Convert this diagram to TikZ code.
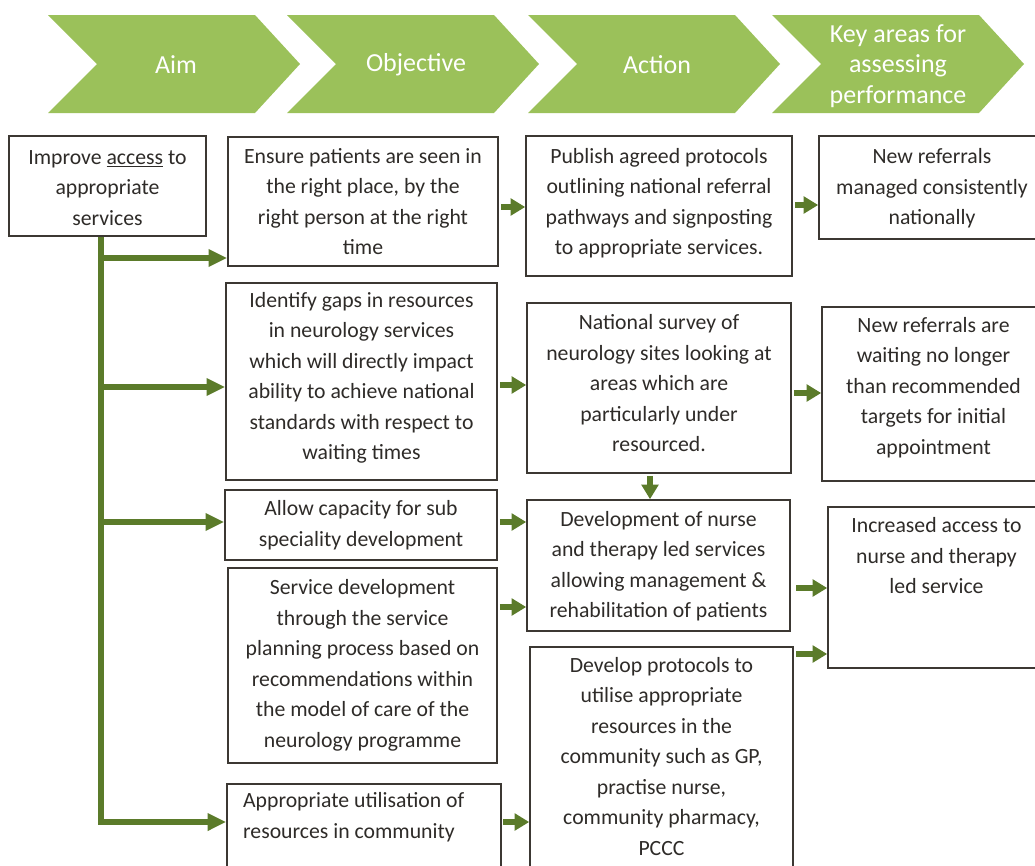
\documentclass[tikz,border=0pt]{standalone}
\usepackage{fontspec}
\setmainfont{Carlito}
\usetikzlibrary{fit,arrows.meta}

\definecolor{chevgreen}{HTML}{9BC15A}
\definecolor{arrgreen}{HTML}{5B7B2A}
\definecolor{boxline}{HTML}{3C3833}
\definecolor{boxtext}{HTML}{2E2B28}

\tikzset{
  box/.style={draw=boxline, line width=1.2pt, inner sep=0pt},
  txt/.style={inner sep=0pt, text=boxtext, align=center,
    font={\fontsize{16.3pt}{22.9pt}\selectfont}},
  chevtext/.style={text=white, align=center,
    font={\fontsize{19.5pt}{23pt}\selectfont}},
  arr/.style={draw=arrgreen, line width=4.5pt,
    -{Triangle[length=11pt,width=12.5pt]}},
  branch/.style={draw=arrgreen, line width=4.3pt, line join=miter,
    -{Triangle[length=14pt,width=12.5pt]}},
  trunk/.style={draw=arrgreen, line width=4.3pt}
}

% one header chevron, left edge at #1
\newcommand{\chevronat}[1]{%
  \fill[chevgreen] (#1,15) -- ++(207,0) -- ++(45,49) -- ++(-45,49)
    -- ++(-207,0) -- ++(49,-49) -- cycle;}

\begin{document}
\begin{tikzpicture}[x=0.75pt,y=-0.75pt]
\useasboundingbox (0,0) rectangle (1035,865);

% header chevrons
\chevronat{48}
\chevronat{287}
\chevronat{528}
\chevronat{772}
\node[chevtext] (hAim) at (176,65) {Aim};
\node[chevtext] (hObj) at (416,65) {Objective};
\node[chevtext] (hAct) at (657,65) {Action};
\node[chevtext] (hKey) at (898,66) {Key areas for\\assessing\\performance};

% boxes
\node[box, fit={(9,136) (206,236)}]    (aim) {};
\node[box, fit={(228,137) (498,266)}]  (o1) {};
\node[box, fit={(226,283) (497,480)}]  (o2) {};
\node[box, fit={(225,490) (497,560)}]  (o3) {};
\node[box, fit={(228,568) (497,763)}]  (o4) {};
\node[box, fit={(227,784) (501,880)}]  (o5) {};
\node[box, fit={(526,136) (792,276)}]  (a1) {};
\node[box, fit={(527,303) (791,473)}]  (a2) {};
\node[box, fit={(527,500) (790,631)}]  (a3) {};
\node[box, fit={(530,647) (793,868)}]  (a4) {};
\node[box, fit={(819,136) (1045,239)}] (k1) {};
\node[box, fit={(822,307) (1045,481)}] (k2) {};
\node[box, fit={(828,507) (1045,668)}] (k3) {};

% box texts
\node[txt] (aimt) at ([yshift=-1.3pt]aim.center)
  {Improve \underline{access} to\\appropriate\\services};
\node[txt] (o1t) at (o1.center)
  {Ensure patients are seen in\\the right place, by the\\right person at the right\\time};
\node[txt] (o2t) at ([yshift=2.8pt]o2.center)
  {Identify gaps in resources\\in neurology services\\which will directly impact\\ability to achieve national\\standards with respect to\\waiting times};
\node[txt] (o3t) at (o3.center)
  {Allow capacity for sub\\speciality development};
\node[txt] (o4t) at (o4.center)
  {Service development\\through the service\\planning process based on\\recommendations within\\the model of care of the\\neurology programme};
\node[txt, align=left, anchor=north west] (o5t)
  at ([xshift=12.5pt,yshift=-6.8pt]o5.north west)
  {Appropriate utilisation of\\resources in community};
\node[txt] (a1t) at ([yshift=2.2pt]a1.center)
  {Publish agreed protocols\\outlining national referral\\pathways and signposting\\to appropriate services.};
\node[txt] (a2t) at ([yshift=3.6pt]a2.center)
  {National survey of\\neurology sites looking at\\areas which are\\particularly under\\resourced.};
\node[txt] (a3t) at ([yshift=-0.6pt]a3.center)
  {Development of nurse\\and therapy led services\\allowing management \&\\rehabilitation of patients};
\node[txt] (a4t) at ([yshift=0.8pt]a4.center)
  {Develop protocols to\\utilise appropriate\\resources in the\\community such as GP,\\practise nurse,\\community pharmacy,\\PCCC};
\node[txt] (k1t) at ([yshift=-0.7pt]k1.center)
  {New referrals\\managed consistently\\nationally};
\node[txt] (k2t) at ([yshift=5pt]k2.center)
  {New referrals are\\waiting no longer\\than recommended\\targets for initial\\appointment};
\node[txt, anchor=north] (k3t) at ([yshift=-8.3pt]k3.north)
  {Increased access to\\nurse and therapy\\led service};

% spine from the aim to the objectives
\coordinate (tx) at (101,0);
\draw[trunk] (aim.south -| tx) -- (tx |- 0,300);
\draw[branch] (tx |- 0,258) -- (o1.west |- 0,258);
\draw[branch] (tx |- 0,387) -- (o2.west |- 0,387);
\draw[branch] (tx |- 0,522) -- (o3.west |- 0,522);
\draw[branch] (aim.south -| tx) -- (tx |- 0,822) -- (o5.west |- 0,822);

% objective -> action
\draw[arr] ([xshift=1.5pt]o1.east |- 0,207) -- (a1.west |- 0,207);
\draw[arr] ([xshift=1.5pt]o2.east |- 0,385) -- (a2.west |- 0,385);
\draw[arr] ([xshift=1.5pt]o3.east |- 0,522) -- (a3.west |- 0,522);
\draw[arr] ([xshift=1.5pt]o4.east |- 0,607) -- (a3.west |- 0,607);
\draw[arr] ([xshift=1pt]o5.east |- 0,822) -- (a4.west |- 0,822);
\draw[arr] ([yshift=-1.5pt]a2.south -| 650,0) -- (a3.north -| 650,0);

% action -> key area
\draw[arr] ([xshift=1.5pt]a1.east |- 0,205) -- (k1.west |- 0,205);
\draw[arr] ([xshift=1.5pt]a2.east |- 0,393) -- (k2.west |- 0,393);
\draw[arr] ([xshift=4pt]a3.east |- 0,588) -- (k3.west |- 0,588);
\draw[arr] ([xshift=2pt]a4.east |- 0,654) -- (k3.west |- 0,654);
\end{tikzpicture}
\end{document}
